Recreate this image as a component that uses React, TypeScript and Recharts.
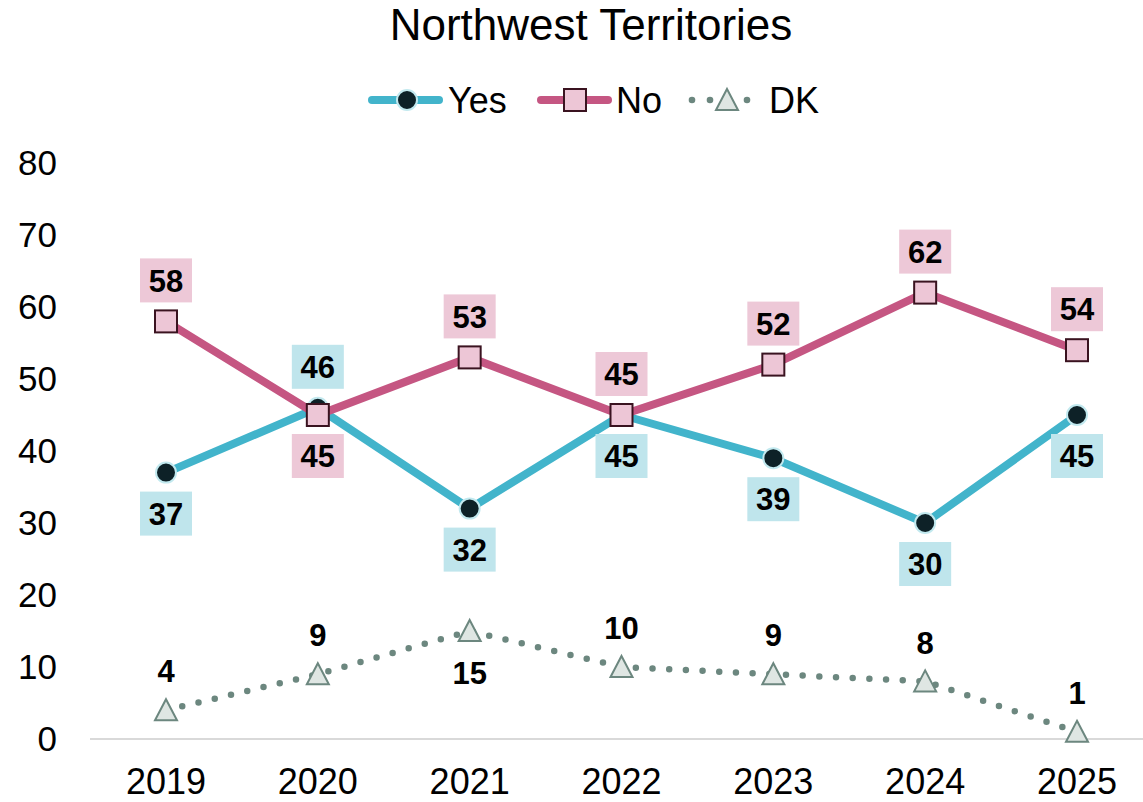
import { LineChart, Line, XAxis, YAxis, LabelList } from 'recharts';

const FONT = 'Liberation Sans, Arial, sans-serif';

const years = ['2019', '2020', '2021', '2022', '2023', '2024', '2025'];
const yesValues = [37, 46, 32, 45, 39, 30, 45];
const noValues = [58, 45, 53, 45, 52, 62, 54];
const dkValues = [4, 9, 15, 10, 9, 8, 1];
const yTicks = [0, 10, 20, 30, 40, 50, 60, 70, 80];

// points whose label sits on the opposite side from the rest of the series
const yesLabelAbove = ['2020'];
const noLabelBelow = ['2020'];
const dkLabelBelow = ['2021'];

const YES_LINE = '#42b4cb';
const NO_LINE = '#c55682';
const DK_LINE = '#6c877f';

const data = years.map((year, i) => ({
  year,
  yes: yesValues[i],
  no: noValues[i],
  dk: dkValues[i],
}));

const YesDot = (props: any) => {
  const { cx, cy, index } = props;
  return <circle key={`yes-${index}`} cx={cx} cy={cy} r={10} fill="#0d2127" stroke="#c2e9ef" strokeWidth={2} />;
};

const NoDot = (props: any) => {
  const { cx, cy, index } = props;
  return (
    <rect key={`no-${index}`} x={cx - 11} y={cy - 11} width={22} height={22} fill="#edc6d6" stroke="#3a1320" strokeWidth={2} />
  );
};

const DkDot = (props: any) => {
  const { cx, cy, index } = props;
  return (
    <polygon
      key={`dk-${index}`}
      points={`${cx},${cy - 11} ${cx + 11},${cy + 10} ${cx - 11},${cy + 10}`}
      fill="#dfe6e3"
      stroke={DK_LINE}
      strokeWidth={2}
    />
  );
};

const boxLabel = (fill: string, above: (i: number) => boolean) => (props: any) => {
  const { x, y, value, index } = props;
  const cy = above(index) ? y - 41 : y + 41;
  return (
    <g key={`lbl-${fill}-${index}`}>
      <rect x={x - 26} y={cy - 22} width={52} height={44} fill={fill} />
      <text x={x} y={cy} dy="0.36em" textAnchor="middle" fontFamily={FONT} fontSize={31} fontWeight="bold" fill="#000">
        {value}
      </text>
    </g>
  );
};

const dkLabel = (props: any) => {
  const { x, y, value, index } = props;
  const cy = dkLabelBelow.includes(years[index]) ? y + 42 : y - 39;
  return (
    <text key={`dkl-${index}`} x={x} y={cy} dy="0.36em" textAnchor="middle" fontFamily={FONT} fontSize={31} fontWeight="bold" fill="#000">
      {value}
    </text>
  );
};

function Header() {
  return (
    <svg width={1143} height={140} style={{ position: 'absolute', left: 0, top: 0, pointerEvents: 'none' }}>
      <text x={591} y={40} textAnchor="middle" fontFamily={FONT} fontSize={44} fill="#000">
        Northwest Territories
      </text>
      {/* Yes */}
      <line x1={372} y1={100} x2={439} y2={100} stroke={YES_LINE} strokeWidth={8} strokeLinecap="round" />
      <circle cx={407} cy={100} r={10} fill="#0d2127" stroke="#c2e9ef" strokeWidth={2} />
      <text x={448} y={100} dy="0.36em" fontFamily={FONT} fontSize={36} fill="#000">Yes</text>
      {/* No */}
      <line x1={541} y1={100} x2={608} y2={100} stroke={NO_LINE} strokeWidth={8} strokeLinecap="round" />
      <rect x={564} y={89} width={22} height={22} fill="#edc6d6" stroke="#3a1320" strokeWidth={2} />
      <text x={616} y={100} dy="0.36em" fontFamily={FONT} fontSize={36} fill="#000">No</text>
      {/* DK */}
      <circle cx={692} cy={100} r={3.3} fill={DK_LINE} />
      <circle cx={710} cy={100} r={3.3} fill={DK_LINE} />
      <circle cx={747} cy={100} r={3.3} fill={DK_LINE} />
      <polygon points="727,89 738,110 716,110" fill="#dfe6e3" stroke={DK_LINE} strokeWidth={2} />
      <text x={769} y={100} dy="0.36em" fontFamily={FONT} fontSize={36} fill="#000">DK</text>
    </svg>
  );
}

export default function App() {
  return (
    <div style={{ position: 'absolute', left: 0, top: 0, width: 1143, height: 802, background: '#fff', fontFamily: FONT }}>
      <LineChart width={1143} height={802} data={data} margin={{ top: 163, right: 0, bottom: 0, left: 0 }}>
        <XAxis
          dataKey="year"
          height={63}
          padding={{ left: 76, right: 66 }}
          axisLine={{ stroke: '#d9d9d9', strokeWidth: 2 }}
          tickLine={false}
          tickSize={0}
          tickMargin={29}
          interval={0}
          tick={{ fill: '#000', fontSize: 36, fontFamily: FONT }}
        />
        <YAxis
          width={90}
          domain={[0, 80]}
          ticks={yTicks}
          axisLine={false}
          tickLine={false}
          tickSize={0}
          tickMargin={33}
          tick={{ fill: '#000', fontSize: 35, fontFamily: FONT }}
        />
        <Line
          dataKey="dk"
          stroke={DK_LINE}
          strokeWidth={6.5}
          strokeDasharray="0 16.7"
          strokeLinecap="round"
          dot={DkDot}
          activeDot={false}
          isAnimationActive={false}
        >
          <LabelList dataKey="dk" content={dkLabel} />
        </Line>
        <Line
          dataKey="yes"
          stroke={YES_LINE}
          strokeWidth={8}
          dot={YesDot}
          activeDot={false}
          isAnimationActive={false}
        >
          <LabelList dataKey="yes" content={boxLabel('#bfe5ec', (i) => yesLabelAbove.includes(years[i]))} />
        </Line>
        <Line
          dataKey="no"
          stroke={NO_LINE}
          strokeWidth={8}
          dot={NoDot}
          activeDot={false}
          isAnimationActive={false}
        >
          <LabelList dataKey="no" content={boxLabel('#edc8d7', (i) => !noLabelBelow.includes(years[i]))} />
        </Line>
      </LineChart>
      <Header />
    </div>
  );
}
